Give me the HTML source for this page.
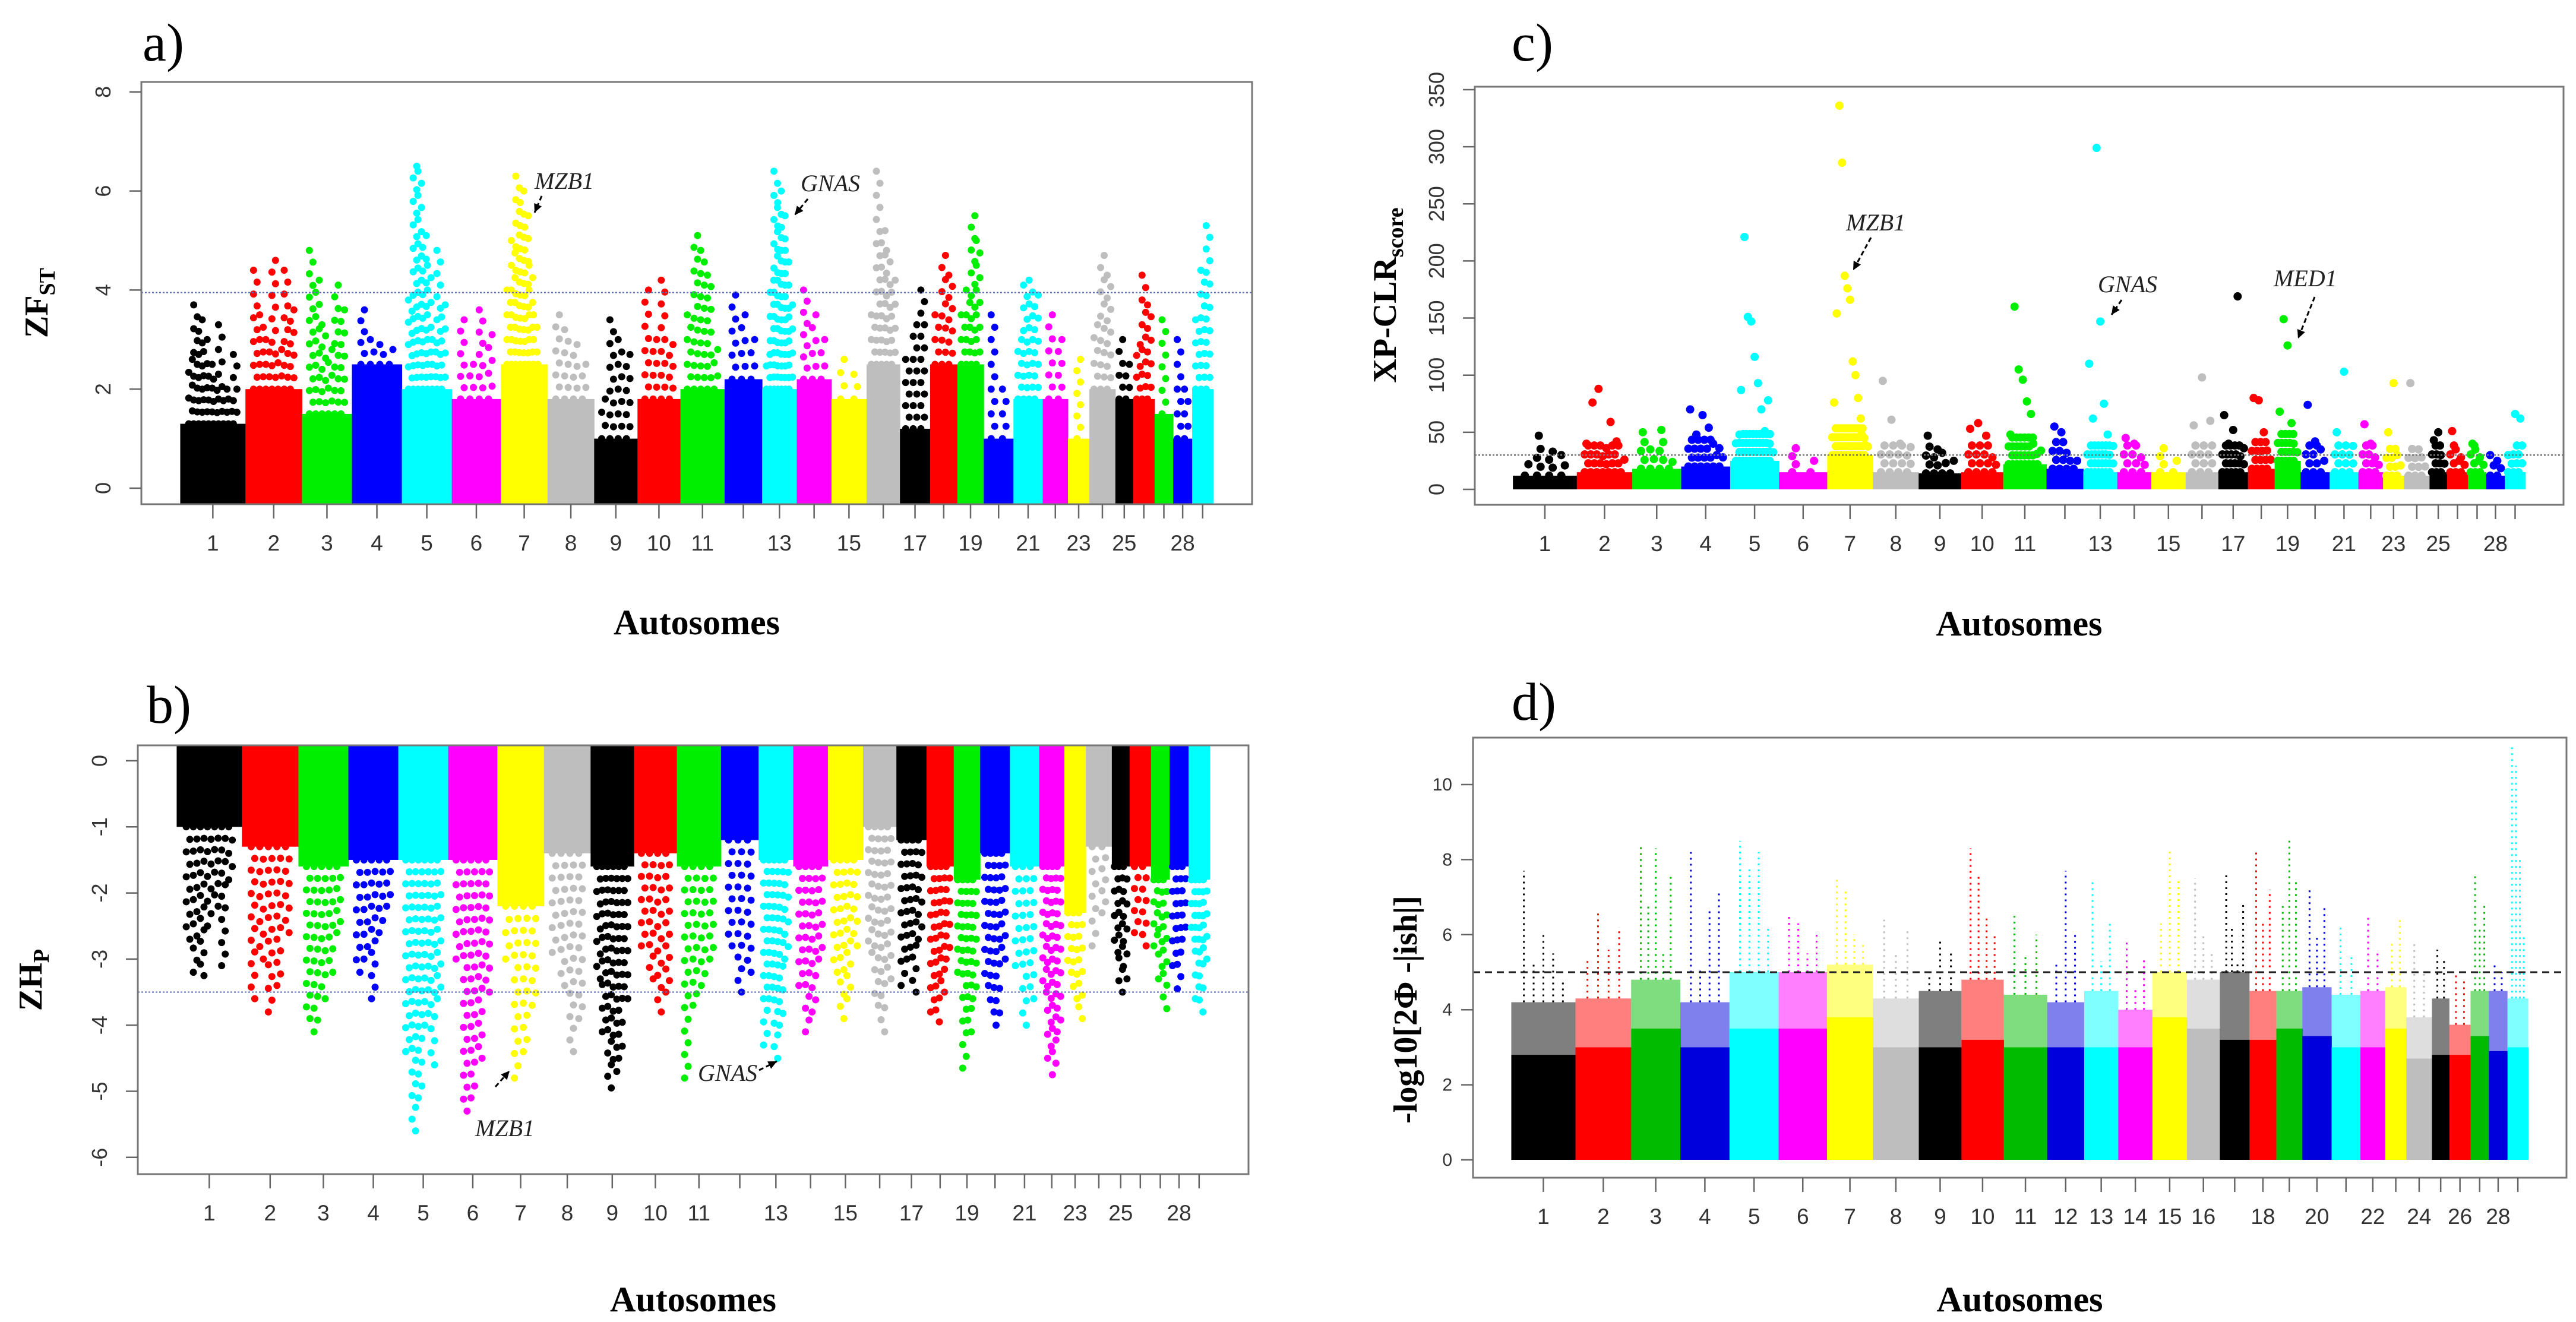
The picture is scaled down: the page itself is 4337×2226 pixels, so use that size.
<!DOCTYPE html>
<html><head><meta charset="utf-8"><style>
html,body{margin:0;padding:0;background:#fff;}
svg{display:block;}
.tk{font-family:"Liberation Sans Narrow","Liberation Sans",sans-serif;fill:#333;}
.ser{font-family:"Liberation Serif",serif;}
</style></head><body>
<svg id="fig" width="4337" height="2226" viewBox="0 0 4337 2226" xmlns="http://www.w3.org/2000/svg">
<rect width="4337" height="2226" fill="#fff"/>
</svg>
<script>
// shared chromosome data
const chromNames = ["1","2","3","4","5","6","7","8","9","10","11","12","13","14","15","16","17","18","19","20","21","22","23","24","25","26","27","28","29"];
const chromLengths = [158,137,121,121,121,119,113,113,105,104,107,91,84,84,85,81,73,66,64,72,71,61,52,63,43,52,45,46,51];
const palette = ["#000000","#ff0000","#00ee00","#0000ff","#00ffff","#ff00ff","#ffff00","#bebebe"];
const paletteD = ["#000000","#ff0000","#00bb00","#0000dd","#00ffff","#ff00ff","#ffff00","#bebebe"];
const labelsABC = ["1","2","3","4","5","6","7","8","9","10","11","13","15","17","19","21","23","25","28"];
const labelsD = ["1","2","3","4","5","6","7","8","9","10","11","12","13","14","15","16","18","20","22","24","26","28"];

// panel a: ZFst
const aTicks = [0,2,4,6,8];
const aThreshold = 3.95;
const aSolid = [1.3,2.0,1.5,2.5,2.0,1.8,2.5,1.8,1.0,1.8,2.0,2.2,2.0,2.2,1.8,2.5,1.2,2.5,2.5,1.0,1.8,1.8,1.0,2.0,1.8,1.8,1.5,1.0,2.0];
const aPeaks = [
 [2.6,3.7,3.4,3.0,2.5,2.2,3.3,2.0,1.8,2.7],[4.4,3.5,3.0,4.6,2.8,4.4,3.6],[4.8,4.2,3.3,2.8,4.1,3.6],[3.6,3.0,2.9,2.8],
 [3.8,6.5,6.4,5.1,4.5,3.0,4.8,3.7],[3.4,2.5,3.6,3.1],[4.0,5.0,6.3,6.0,5.5,4.5,3.5,2.4],[3.5,3.2,2.9,2.5],
 [1.8,3.4,3.0,2.7],[4.0,3.0,4.2,2.9],[3.5,5.1,4.8,4.3,2.8],[3.9,3.5,3.0],[2.7,4.2,6.4,6.0,5.5,4.8,3.7],[4.0,3.5,3.0],
 [2.6,2.3],[3.5,6.4,5.2,4.8,4.2],[2.6,3.3,4.0],[3.5,4.7,4.3],[3.5,4.0,5.5,5.0],[3.5,2.0],[3.0,4.1,4.2,3.9],[3.5,3.0],
 [2.6],[3.3,4.7,4.3],[3.0,2.5],[2.9,4.3,3.7],[3.4],[3.0,2.0],[3.4,4.4,5.3]];

// panel b: ZHp
const bTicks = [0,-1,-2,-3,-4,-5,-6];
const bThreshold = -3.5;
const bSolid = [-1.0,-1.3,-1.6,-1.5,-1.5,-1.5,-2.2,-1.4,-1.6,-1.4,-1.6,-1.2,-1.5,-1.6,-1.5,-1.0,-1.2,-1.6,-1.8,-1.4,-1.6,-1.6,-2.3,-1.3,-1.6,-1.6,-1.8,-1.6,-1.8];
const bPeaks = [
 [-2.7,-3.2,-3.25,-2.5,-2.2,-3.1,-1.8],[-3.6,-3.0,-3.8,-3.4,-2.6],[-3.9,-4.1,-3.6,-3.2,-2.6],[-3.2,-3.0,-3.6,-2.6,-2.2],
 [-4.4,-5.6,-5.1,-4.0,-4.6,-3.6],[-3.0,-5.3,-5.1,-4.5,-3.5],[-3.0,-4.8,-4.4,-3.7],[-2.9,-3.4,-4.4,-3.9],
 [-3.3,-4.1,-4.95,-4.7,-4.5,-3.6],[-2.8,-3.3,-3.8,-3.5],[-4.8,-3.7,-3.4,-3.0],[-2.8,-3.5,-3.2],[-4.3,-3.6,-4.5,-4.0,-3.0],
 [-3.4,-4.1,-3.8,-3.0],[-3.2,-3.9,-3.6,-2.8],[-2.9,-3.7,-4.1,-3.3],[-3.4,-3.0,-3.5,-2.7],[-3.8,-3.95,-3.5,-3.0],
 [-3.2,-4.65,-4.1,-3.6],[-3.4,-3.8,-4.0,-3.0],[-3.1,-4.0,-3.6],[-3.5,-4.5,-4.75,-4.1],[-3.2,-3.6,-3.9],[-2.8,-2.3],
 [-2.9,-3.5,-3.3],[-2.6,-2.8],[-2.8,-3.3,-3.75],[-3.1,-3.45,-2.7],[-2.7,-3.6,-3.8,-3.0]];

// panel c: XP-CLR score
const cTicks = [0,50,100,150,200,250,300,350];
const cThreshold = 30;
const cSolid = [12,15,18,20,25,15,30,15,14,15,22,18,15,15,15,15,15,18,25,15,15,15,12,12,15,15,15,12,15];
const cPeaks = [
 [22,47,33,30],[40,76,88,36,59,42,26],[50,35,52,24],[70,48,65,54,40,36],[48,87,221,151,147,116,93,70,51,78,40],[36,25],
 [76,154,336,286,187,176,166,112,100,80,62,48,45],[95,61,40,37],[47,35,32,25],[53,58,47,28],[48,160,105,96,77,66,40,34],
 [55,50,32,25],[110,62,299,147,75,48,38],[45,40,28],[36,25],[56,98,60],[65,40,52,169,36],[80,78,50,34],[68,149,126,58,40],
 [74,42,35],[50,103,38],[57,40,28],[50,93,30],[93,35,28],[43,50,30],[51,35,28],[40,35,28],[30,25],[30,66,62]];

// panel d: -log10 p
const dTicks = [0,2,4,6,8,10];
const dThreshold = 5;
const dSolid = [2.8,3.0,3.5,3.0,3.5,3.5,3.8,3.0,3.0,3.2,3.0,3.0,3.0,3.0,3.8,3.5,3.2,3.2,3.5,3.3,3.0,3.0,3.5,2.7,2.8,2.8,3.3,2.9,3.0];
const dDense = [4.2,4.3,4.8,4.2,5.0,5.0,5.2,4.3,4.5,4.8,4.4,4.2,4.5,4.0,5.0,4.8,5.0,4.5,4.5,4.6,4.4,4.5,4.6,3.8,4.3,3.6,4.5,4.5,4.3];
const dPeaks = [
 [7.7,5.3,6.0,5.5,4.8],[5.3,6.6,5.6,6.2],[8.4,6.8,8.3,5.5,7.6],[8.2,5.1,6.7,7.1],[8.5,7.8,8.2,6.2],[6.5,6.3,5.5,6.0],
 [7.5,7.2,6.0,5.8],[6.4,5.5,6.1],[5.1,5.9,5.5],[8.3,7.6,6.5,6.0],[6.5,5.5,6.0],[5.3,7.7,6.0],[7.5,5.3,6.3],[5.9,4.6,5.4],
 [6.3,8.3,7.5],[7.5,6.0,5.5],[7.6,6.2,5.3,6.8],[8.2,6.3,7.2],[6.8,8.6,7.5],[7.2,6.0,6.8],[6.2,5.5],[6.5,5.5],[5.8,6.5],
 [5.8,5.0],[5.6,5.4],[5.0,4.8],[7.6,6.2,6.8],[5.2,5.0],[11.0,10.5,8.0,6.0]];

const NS = "http://www.w3.org/2000/svg";
const svg = document.getElementById("fig");
function mk(tag, attrs, parent){
  const e = document.createElementNS(NS, tag);
  for (const k in attrs) e.setAttribute(k, attrs[k]);
  (parent||svg).appendChild(e);
  return e;
}
const totalLen = chromLengths.reduce((a,b)=>a+b,0);
function chromX(box, i, frac){
  let cum = 0; for (let k=0;k<i;k++) cum += chromLengths[k];
  const x0 = box.x0 + (box.x1-box.x0)*0.035;
  const x1 = box.x0 + (box.x1-box.x0)*0.965;
  return x0 + (x1-x0)*(cum + chromLengths[i]*frac)/totalLen;
}

function panel(cfg){
  const g = mk("g", {});
  
  
  const box = cfg.box;
  const Y = v => cfg.y0 - v*cfg.ppu;
  const cols = cfg.colors;
  const dg = mk("g", {}, g);
  
  
  for (let i=0;i<chromLengths.length;i++){
    const xa = chromX(box,i,0), xb = chromX(box,i,1), c = cols[i%8];
    const base = cfg.base;
    const ys = Y(cfg.solid[i]);
    const r = mk("rect", {x:xa, y:Math.min(base,ys), width:xb-xa+0.5, height:Math.abs(base-ys), fill:c}, dg);
    
    
    if (cfg.dense){
      const yd = Y(cfg.dense[i]);
      const r2 = mk("rect", {x:xa, y:yd, width:xb-xa, height:ys-yd, fill:c, opacity:0.5}, dg);
      
      
    }
    const pk = cfg.peaks[i], n = pk.length;
    for (let j=0;j<n;j++){
      const x = xa + (xb-xa)*(0.12 + 0.76*(j+0.5)/n);
      if (cfg.spikes){
        const l = mk("line", {x1:x, x2:x, y1:Y(cfg.dense[i]), y2:Y(pk[j]), stroke:c, "stroke-width":3, "stroke-dasharray":"3 7"}, dg);
        
        
      } else {
        const v0 = cfg.solid[i];
        let v1 = pk[j];
        const top = Y(v1);
        // column portion (capped for sparse panels)
        let colEnd = top;
        if (cfg.colCap !== undefined){
          const capY = Y(v0) - cfg.colCap;
          colEnd = Math.max(top, capY);
        }
        const steps = Math.max(1, Math.round(Math.abs(colEnd-Y(v0))/cfg.step));
        for (let s=0;s<=steps;s++){
          const yy = Y(v0) + (colEnd-Y(v0))*s/steps;
          const ci = mk("circle", {cx:x + ((s%2)?3:-3), cy:yy, r:cfg.rad, fill:c}, dg);
          
          
        }
        if (colEnd !== top){
          const ci = mk("circle", {cx:x, cy:top, r:cfg.rad, fill:c}, dg);
          
          
        }
      }
    }
  }
  const th = mk("line", {x1:box.x0, x2:box.x1, y1:Y(cfg.threshold), y2:Y(cfg.threshold), stroke:cfg.thColor, "stroke-width":cfg.thW, "stroke-dasharray":cfg.thDash}, g);
  
  
  const b = mk("rect", {x:box.x0, y:box.y0, width:box.x1-box.x0, height:box.y1-box.y0, fill:"none", stroke:"#777", "stroke-width":3}, g);
  
  
  for (const t of cfg.yticks){
    const y = Y(t);
    const tl = mk("line", {x1:box.x0-20, x2:box.x0, y1:y, y2:y, stroke:"#666", "stroke-width":2.5}, g);
    
    
    let tx;
    if (cfg.horizLabels){
      tx = mk("text", {x:box.x0-35, y:y+10, "text-anchor":"end", "font-size":30, class:"tk"}, g);
    } else {
      tx = mk("text", {x:0, y:0, "text-anchor":"middle", "font-size":36, class:"tk", transform:`translate(${box.x0-52},${y}) rotate(-90)`}, g);
    }
    tx.textContent = String(t);
    
    
  }
  for (let i=0;i<chromLengths.length;i++){
    const x = chromX(box,i,0.5);
    const tl = mk("line", {x1:x, x2:x, y1:box.y1, y2:box.y1+24, stroke:"#666", "stroke-width":2.5}, g);
    
    
    if (cfg.xlabels.includes(chromNames[i])){
      const tx = mk("text", {x:x, y:box.y1+78, "text-anchor":"middle", "font-size":37, class:"tk"}, g);
      tx.textContent = chromNames[i];
      
      
    }
  }
  const xt = mk("text", {x:(box.x0+box.x1)/2, y:cfg.xtY, "text-anchor":"middle", "font-size":60, "font-weight":"bold", class:"ser"}, g);
  xt.textContent = "Autosomes";
  
  
  const pl = mk("text", {x:cfg.letterX, y:cfg.letterY, "font-size":90, class:"ser"}, g);
  pl.textContent = cfg.letter;
  
  
  return g;
}

panel({name:"panel-a-zfst", box:{x0:238,y0:138,x1:2108,y1:849}, y0:822, ppu:83.4, base:849, solid:aSolid, peaks:aPeaks, rad:6, step:20,
  colors:palette, threshold:aThreshold, thColor:"#5a6ab0", thW:2, thDash:"3 3", yticks:aTicks, xlabels:labelsABC,
  xtY:1068, letter:"a)", letterX:240, letterY:102});
panel({name:"panel-b-zhp", box:{x0:232,y0:1255,x1:2102,y1:1977}, y0:1281, ppu:111.3, base:1255, solid:bSolid, peaks:bPeaks, rad:6, step:20,
  colors:palette, threshold:bThreshold, thColor:"#5a6ab0", thW:2, thDash:"3 3", yticks:bTicks, xlabels:labelsABC,
  xtY:2208, letter:"b)", letterX:247, letterY:1217});
panel({name:"panel-c-xpclr", box:{x0:2483,y0:146,x1:4316,y1:850}, y0:824, ppu:1.923, base:824, solid:cSolid, peaks:cPeaks, rad:7, step:16, colCap:45,
  colors:palette, threshold:cThreshold, thColor:"#777", thW:2.5, thDash:"3 3", yticks:cTicks, xlabels:labelsABC,
  xtY:1070, letter:"c)", letterX:2545, letterY:102});
panel({name:"panel-d-log10", box:{x0:2480,y0:1242,x1:4321,y1:1983}, y0:1953, ppu:63.2, base:1953, solid:dSolid, dense:dDense, peaks:dPeaks, spikes:true,
  colors:paletteD, threshold:dThreshold, thColor:"#222", thW:3, thDash:"12 8", yticks:dTicks, xlabels:labelsD, horizLabels:true,
  xtY:2208, letter:"d)", letterX:2545, letterY:1212});

function ytitle(x, y, parts, name){
  const t = mk("text", {x:0, y:0, "text-anchor":"middle", "font-size":56, "font-weight":"bold", class:"ser", transform:`translate(${x},${y}) rotate(-90)`});
  
  
  for (const p of parts){
    const s = mk("tspan", p.sub ? {"font-size":38, dy:12} : {}, t);
    s.textContent = p.t;
  }
}
ytitle(80, 510, [{t:"ZF"},{t:"ST",sub:true}], "y-axis-title-a");
ytitle(70, 1650, [{t:"ZH"},{t:"P",sub:true}], "y-axis-title-b");
ytitle(2350, 497, [{t:"XP-CLR"},{t:"score",sub:true}], "y-axis-title-c");
ytitle(2385, 1700, [{t:"-log10[2\u03A6 -|ish|]"}], "y-axis-title-d");

function ann(x, y, text, ax1, ay1, ax2, ay2, name, dashed){
  const t = mk("text", {x:x, y:y, "font-size":40, "font-style":"italic", class:"ser", fill:"#222"});
  t.textContent = text;
  
  
  const l = mk("line", {x1:ax1, y1:ay1, x2:ax2, y2:ay2, stroke:"#000", "stroke-width":3, "stroke-dasharray":dashed?"8 5":"none"});
  
  
  const ang = Math.atan2(ay2-ay1, ax2-ax1), L=16, W=0.45;
  const p = `${ax2},${ay2} ${ax2-L*Math.cos(ang-W)},${ay2-L*Math.sin(ang-W)} ${ax2-L*Math.cos(ang+W)},${ay2-L*Math.sin(ang+W)}`;
  const h = mk("polygon", {points:p, fill:"#000"});
  
  
}
ann(900, 318, "MZB1", 912, 330, 900, 358, "mzb1-label-a", true);
ann(1348, 322, "GNAS", 1360, 335, 1338, 362, "gnas-label-a", true);
ann(3108, 388, "MZB1", 3150, 400, 3120, 455, "mzb1-label-c", true);
ann(3532, 492, "GNAS", 3572, 505, 3555, 530, "gnas-label-c", true);
ann(3828, 482, "MED1", 3897, 500, 3869, 570, "med1-label-c", true);
ann(800, 1913, "MZB1", 834, 1830, 858, 1803, "mzb1-label-b", true);
ann(1175, 1820, "GNAS", 1278, 1802, 1308, 1787, "gnas-label-b", true);
</script>
</body></html>
